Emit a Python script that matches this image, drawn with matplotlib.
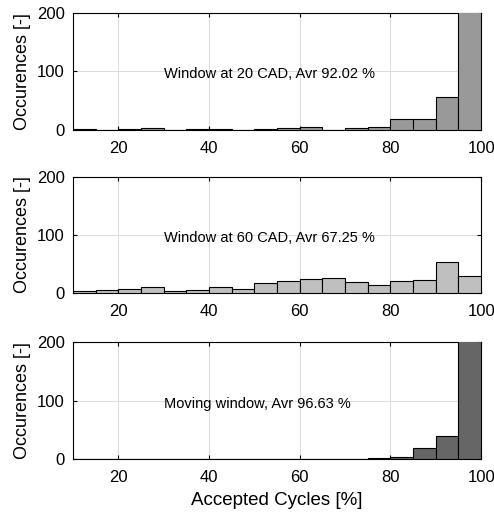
import matplotlib
matplotlib.use("Agg")
import matplotlib.pyplot as plt
import numpy as np

plt.rcParams['font.family'] = ['Liberation Sans', 'DejaVu Sans']

# histogram bins: 10..100 in steps of 5
bin_edges = list(range(10, 101, 5))

counts_20cad = [2, 0, 1, 4, 0, 1, 1, 0, 1, 3, 6, 0, 3, 5, 18, 18, 57, 235]
counts_60cad = [4, 6, 7, 10, 3, 6, 11, 7, 17, 20, 25, 26, 19, 14, 20, 22, 53, 29]
counts_moving = [0, 0, 0, 0, 0, 0, 0, 0, 0, 0, 0, 1, 0, 2, 4, 19, 39, 260]

labels = ["Window at 20 CAD, Avr 92.02 %",
          "Window at 60 CAD, Avr 67.25 %",
          "Moving window, Avr 96.63 %"]
colors = ["#999999", "#bfbfbf", "#666666"]

fig = plt.figure(figsize=(4.94, 5.16), dpi=100)
positions = [[0.148, 0.748, 0.826, 0.227],
             [0.148, 0.432, 0.826, 0.225],
             [0.148, 0.110, 0.826, 0.227]]

edges = np.array(bin_edges)
for pos, counts, lab, col in zip(positions, [counts_20cad, counts_60cad, counts_moving], labels, colors):
    ax = fig.add_axes(pos)
    ax.bar(edges[:-1], counts, width=np.diff(edges), align='edge',
           color=col, edgecolor='black', linewidth=0.8, zorder=3)
    ax.set_xlim(10, 100)
    ax.set_ylim(0, 200)
    ax.set_xticks([20, 40, 60, 80, 100])
    ax.set_yticks([0, 100, 200])
    ax.grid(True, color='#dddddd', linewidth=0.8, zorder=0)
    ax.tick_params(direction='in', top=True, right=True, labelsize=12, length=3)
    ax.tick_params(axis='x', pad=8)
    ax.tick_params(axis='y', pad=6)
    ax.set_ylabel("Occurences [-]", fontsize=13)
    ax.yaxis.set_label_coords(-0.104, 0.5)
    ax.text(30, 95, lab, fontsize=10.5, va='center', ha='left', zorder=4)
    for s in ax.spines.values():
        s.set_linewidth(0.8)
    if counts is counts_moving:
        ax.set_xlabel("Accepted Cycles [%]", fontsize=13.5, labelpad=5)

fig.savefig("out.png", dpi=100)
